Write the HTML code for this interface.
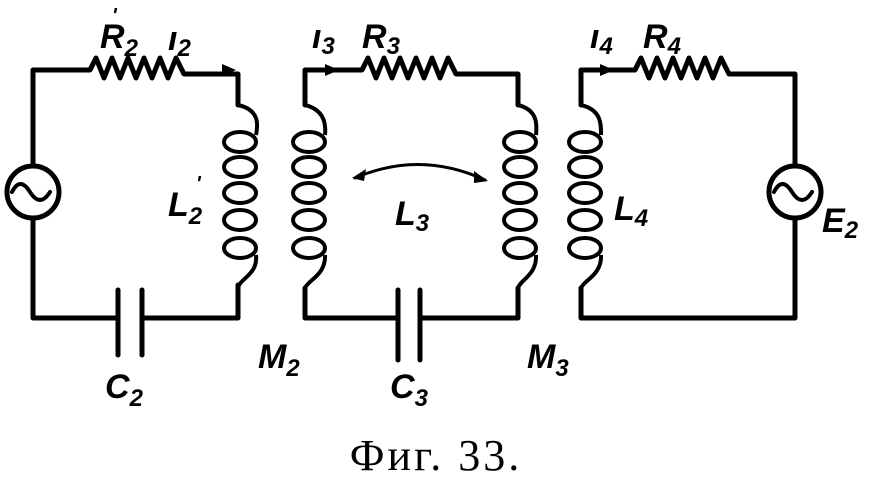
<!DOCTYPE html><html><head><style>body{margin:0;background:#fff}svg{display:block}</style></head><body>
<svg width="872" height="480" viewBox="0 0 872 480" xmlns="http://www.w3.org/2000/svg">
<g fill="none" stroke="#000" stroke-width="5" stroke-linejoin="round" stroke-linecap="round">
<!-- left circuit -->
<path d="M33 166 V70 H90 l6 -12 l8 20 l8 -20 l8 20 l8 -20 l8 20 l8 -20 l8 20 l8 -20 l8 20 l8 -20 l8 16 H238 V105"/>
<path d="M33 218 V318 H118 M142 318 H238 V285"/>
<path d="M118 290 V355 M142 290 V355"/>
<circle cx="33" cy="192" r="26"/>
<path d="M12 192 q8 -16 18 0 q10 16 20 0" stroke-width="4"/>
<!-- middle circuit -->
<path d="M305 105 V70 H362 l6 -12 l8 20 l8 -20 l8 20 l8 -20 l8 20 l8 -20 l8 20 l8 -20 l8 20 l8 -20 l8 16 H518 V105"/>
<path d="M305 288 V318 H398 M420 318 H518 V288"/>
<path d="M398 290 V360 M420 290 V360"/>
<path d="M355 178 Q420 150 485 180" stroke-width="3"/>
<!-- right circuit -->
<path d="M581 105 V70 H635 l6 -12 l8 20 l8 -20 l8 20 l8 -20 l8 20 l8 -20 l8 20 l8 -20 l8 20 l8 -20 l8 16 H795 V166"/>
<path d="M581 288 V318 H795 V218"/>
<circle cx="795" cy="192" r="26"/>
<path d="M774 192 q8 -16 18 0 q10 16 20 0" stroke-width="4"/>
</g>
<g fill="none" stroke="#000" stroke-width="4">
<!-- coil L2 (center 240, bulge right) -->
<path d="M238 105 C260 110 258 125 256 135 M256 255 C258 275 240 278 238 288"/>
<ellipse cx="240" cy="142" rx="16" ry="10"/><ellipse cx="240" cy="167" rx="16" ry="10"/><ellipse cx="240" cy="193" rx="16" ry="10"/><ellipse cx="240" cy="220" rx="16" ry="10"/><ellipse cx="240" cy="248" rx="16" ry="10"/>
<!-- coil M2 left of middle (center 309, bulge right) -->
<path d="M305 105 C325 110 326 125 325 135 M325 255 C326 275 308 280 305 288"/>
<ellipse cx="309" cy="142" rx="16" ry="10"/><ellipse cx="309" cy="167" rx="16" ry="10"/><ellipse cx="309" cy="193" rx="16" ry="10"/><ellipse cx="309" cy="220" rx="16" ry="10"/><ellipse cx="309" cy="248" rx="16" ry="10"/>
<!-- coil right of middle (center 520) -->
<path d="M518 105 C538 110 537 125 536 135 M536 255 C537 275 520 280 518 288"/>
<ellipse cx="520" cy="142" rx="16" ry="10"/><ellipse cx="520" cy="167" rx="16" ry="10"/><ellipse cx="520" cy="193" rx="16" ry="10"/><ellipse cx="520" cy="220" rx="16" ry="10"/><ellipse cx="520" cy="248" rx="16" ry="10"/>
<!-- coil L4 (center 585) -->
<path d="M581 105 C602 110 601 125 601 135 M601 255 C602 275 584 280 581 288"/>
<ellipse cx="585" cy="142" rx="16" ry="10"/><ellipse cx="585" cy="167" rx="16" ry="10"/><ellipse cx="585" cy="193" rx="16" ry="10"/><ellipse cx="585" cy="220" rx="16" ry="10"/><ellipse cx="585" cy="248" rx="16" ry="10"/>
</g>
<g fill="#000">
<path d="M222 64 l14 6 l-14 6 z"/>
<path d="M325 64 l14 6 l-14 6 z"/>
<path d="M600 64 l14 6 l-14 6 z"/>
<path d="M352 178 l14 -9 l-2 12 z"/>
<path d="M488 181 l-14 -10 l0 12 z"/>
</g>
<g font-family="Liberation Sans, sans-serif" font-style="italic" font-weight="bold" font-size="34">
<text x="100" y="48">R<tspan font-size="24" dy="8">2</tspan></text>
<text x="112" y="22" font-size="20">'</text>
<text x="168" y="50">ı<tspan font-size="24" dy="6">2</tspan></text>
<text x="312" y="48">ı<tspan font-size="24" dy="6">3</tspan></text>
<text x="362" y="48">R<tspan font-size="24" dy="6">3</tspan></text>
<text x="590" y="48">ı<tspan font-size="24" dy="6">4</tspan></text>
<text x="643" y="48">R<tspan font-size="24" dy="6">4</tspan></text>
<text x="168" y="216">L<tspan font-size="24" dy="8">2</tspan></text>
<text x="196" y="190" font-size="20">'</text>
<text x="395" y="225">L<tspan font-size="24" dy="6">3</tspan></text>
<text x="614" y="220">L<tspan font-size="24" dy="6">4</tspan></text>
<text x="822" y="232">E<tspan font-size="24" dy="6">2</tspan></text>
<text x="258" y="368">M<tspan font-size="24" dy="8">2</tspan></text>
<text x="527" y="368">M<tspan font-size="24" dy="8">3</tspan></text>
<text x="105" y="398">C<tspan font-size="24" dy="8">2</tspan></text>
<text x="390" y="398">C<tspan font-size="24" dy="8">3</tspan></text>
</g>
<text x="436" y="470" text-anchor="middle" font-family="Liberation Serif, serif" font-size="44" letter-spacing="3">Фиг. 33.</text>
</svg></body></html>
